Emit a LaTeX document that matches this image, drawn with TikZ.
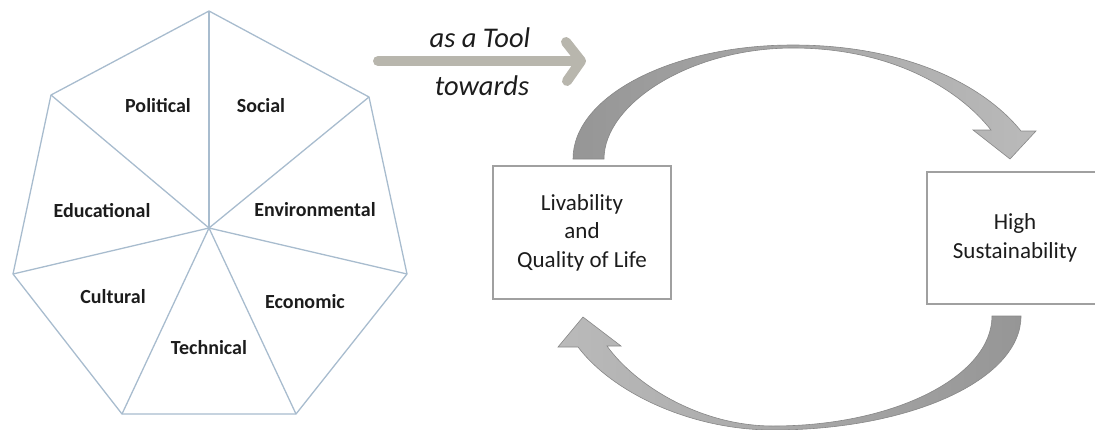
\documentclass[tikz,border=0pt]{standalone}
\usepackage{fontspec}
\setmainfont{Carlito}
\usetikzlibrary{calc}
\definecolor{edgeblue}{RGB}{168,188,206}
\definecolor{labelink}{RGB}{28,28,28}
\definecolor{boxgray}{RGB}{160,160,160}
\definecolor{toolgray}{RGB}{184,182,173}
\definecolor{arcdark}{RGB}{150,150,150}
\definecolor{arclight}{RGB}{186,186,186}
\definecolor{arcedge}{RGB}{135,135,135}
\begin{document}
\begin{tikzpicture}[x=1pt,y=-1pt,
  facet/.style={draw=edgeblue, line width=1.3pt, line join=round},
  facetlabel/.style={font=\fontsize{20}{23}\selectfont\bfseries, text=labelink, inner sep=0pt},
  boxnode/.style={draw=boxgray, line width=1.2pt, align=center,
    font=\fontsize{23}{28.5}\selectfont, text=labelink, inner sep=0pt},
  toolarrow/.style={draw=toolgray, line width=10pt, line cap=round, line join=round},
  tooltext/.style={font=\fontsize{28.5}{32}\selectfont\itshape, text=labelink, inner sep=0pt},
  cyclearrow/.style={draw=arcedge, line width=0.6pt, line join=miter}
]
\clip (0,0) rectangle (1095,429);

% seven-sided wheel of dimensions
\coordinate (c)  at (209,228);
\coordinate (v0) at (209,11);
\coordinate (v1) at (369,97);
\coordinate (v2) at (407,274);
\coordinate (v3) at (296,414);
\coordinate (v4) at (122,414);
\coordinate (v5) at (13,274);
\coordinate (v6) at (51,95);
\draw[facet] (v0) -- (v1) -- (v2) -- (v3) -- (v4) -- (v5) -- (v6) -- cycle;
\foreach \i in {0,...,6} \draw[facet] (c) -- (v\i);

\node[facetlabel] (political) at (158,106) {Political};
\node[facetlabel] (social)    at (261,106) {Social};
\node[facetlabel] (educ)      at (102,211) {Educational};
\node[facetlabel] (env)       at (315,210) {Environmental};
\node[facetlabel] (cult)      at (113,297) {Cultural};
\node[facetlabel] (econ)      at (305,302) {Economic};
\node[facetlabel] (tech)      at (209,348) {Technical};

% "as a Tool towards" arrow
\coordinate (toolstart) at (378,61);
\coordinate (toolend)   at (580,61);
\draw[toolarrow] (toolstart) -- (toolend);
\draw[toolarrow] ($(toolend)+(-14,-19)$) -- ($(toolend)+(1,0)$) -- ($(toolend)+(-13,20)$);
\node[tooltext] (astool)  at (480,38) {as a Tool};
\node[tooltext] (towards) at (482,86) {towards};

% the two outcome boxes
\node[boxnode, minimum width=178pt, minimum height=133pt] (live) at (582,232.5)
  {Livability\\and\\Quality of Life};
\node[boxnode, minimum width=176pt, minimum height=132pt] (sust) at (1015,238)
  {High\\Sustainability};

% upper curved block arrow
\shadedraw[cyclearrow, left color=arcdark, right color=arclight]
  (573,159) .. controls (573,96) and (672,45) .. (793,45)
  .. controls (903,45) and (982,83) .. (1021,131)
  -- (1036,131) -- (1010,159) -- (973,130) -- (991,130)
  .. controls (958,88) and (890,48) .. (793,48)
  .. controls (690,48) and (604,104) .. (604,159) -- cycle;

% lower curved block arrow
\shadedraw[cyclearrow, left color=arclight, right color=arcdark]
  (1021,316) .. controls (1021,380) and (910,430) .. (773,430)
  .. controls (690,430) and (612,392) .. (578,347)
  -- (558,347) -- (583,317) -- (621,346) -- (607,346)
  .. controls (635,385) and (700,426) .. (773,426)
  .. controls (895,426) and (992,376) .. (992,316) -- cycle;
\end{tikzpicture}
\end{document}
